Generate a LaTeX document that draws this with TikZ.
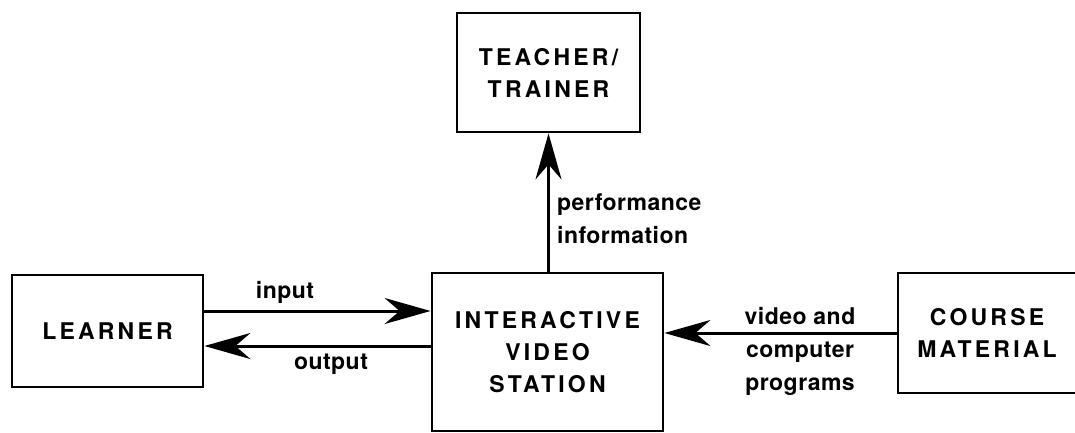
\documentclass[tikz,border=0pt]{standalone}
\usepackage{fontspec}
\usetikzlibrary{arrows.meta}
\newfontfamily\capsfont[LetterSpace=14]{TeX Gyre Heros}
\newfontfamily\lblfont[LetterSpace=2]{TeX Gyre Heros}
\begin{document}
\begin{tikzpicture}[x=1pt,y=-1pt,
  box/.style={draw,line width=2.8pt,inner sep=0pt,align=center,
    font=\capsfont\fontsize{23}{32}\selectfont\bfseries},
  lbl/.style={inner sep=0pt,font=\lblfont\fontsize{23}{33}\selectfont\bfseries},
  arr/.style={line width=3pt,-{Stealth[length=46pt,width=26pt,inset=15pt]}}]
\clip (0,0) rectangle (1075,432);
\fill[white] (0,0) rectangle (1075,432);
\node[box,minimum width=183pt,minimum height=119pt] (teacher) at (548.5,72.5) {TEACHER/\\TRAINER};
\node[box,minimum width=191pt,minimum height=112pt] (learner) at (107.5,331) {LEARNER};
\node[box,minimum width=231pt,minimum height=158pt] (ivs) at (547.5,352) {INTERACTIVE\\VIDEO\\STATION};
\node[box,minimum width=178pt,minimum height=120pt] (course) at (987,333) {COURSE\\MATERIAL};
\path (learner.east) ++(0,-20) coordinate (inA);
\path (ivs.west) ++(0,-6) coordinate (outA);
\draw[arr] (inA) -- (inA -| ivs.west);
\draw[arr] (outA) -- (outA -| learner.east);
\draw[arr] (ivs.north -| teacher.south) -- (teacher.south);
\draw[arr] (course.west) -- (course.west -| ivs.east);
\node[lbl] (input) at (285,292) {input};
\node[lbl] (output) at (331,364) {output};
\node[lbl,anchor=west,align=left] (perf) at (557,219) {performance\\information};
\node[lbl,align=center] (video) at (800,351) {video and\\computer\\programs};
\end{tikzpicture}
\end{document}
